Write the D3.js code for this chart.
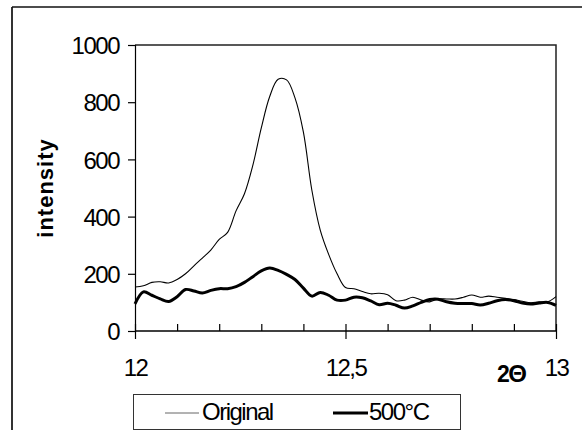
<!DOCTYPE html>
<html><head><meta charset="utf-8">
<script src="https://cdn.jsdelivr.net/npm/d3@7"></script>
<style>
html,body{margin:0;padding:0;background:#fff;}
svg{display:block;font-family:"Liberation Sans",Arial,sans-serif;}
</style></head>
<body><svg id="chart" width="582" height="430"></svg>
<script>
// ---- data ----
const theta = [12.00,12.02,12.04,12.06,12.08,12.10,12.12,12.14,12.16,12.18,12.20,12.22,12.24,12.26,12.28,12.30,12.32,12.34,12.36,12.38,12.40,12.42,12.44,12.46,12.48,12.50,12.52,12.54,12.56,12.58,12.60,12.62,12.64,12.66,12.68,12.70,12.72,12.74,12.76,12.78,12.80,12.82,12.84,12.86,12.88,12.90,12.92,12.94,12.96,12.98,13.00];
const original = [154,158,170,172,168,180,200,228,255,283,320,345,420,480,580,710,820,880,878,815,695,493,353,268,200,152,148,138,130,132,127,106,108,118,108,102,112,112,112,118,126,118,122,118,114,110,104,99,102,102,120];
const heated = [95,137,125,112,103,120,145,140,133,142,148,148,155,170,190,210,220,212,198,180,150,122,135,125,108,108,118,116,105,92,97,90,80,88,100,110,111,102,97,96,96,91,97,106,110,106,98,94,98,100,90];
const seriesNames = ["Original","500°C"];
const yTicks = [0,200,400,600,800,1000];
const xMajorTicks = [12,12.5,13];
const xMinorTicks = [12.1,12.2,12.3,12.4,12.6,12.7,12.8,12.9];
const xTickLabels = ["12","12,5","13"];

const svg = d3.select("#chart");
const L=135,R=556,T=45,B=331;
const x = d3.scaleLinear().domain([12,13]).range([L,R]);
const y = d3.scaleLinear().domain([0,1000]).range([B,T]);
const FONT = "Liberation Sans, Arial, sans-serif";

// outer frame (partially visible)
svg.append("line").attr("x1",12).attr("x2",12).attr("y1",7).attr("y2",430).attr("stroke","#333").attr("stroke-width",2);
svg.append("line").attr("x1",12).attr("x2",582).attr("y1",7).attr("y2",7).attr("stroke","#111").attr("stroke-width",1.5);

// plot area border (top and right)
svg.append("path").attr("d",`M${L},${T}H${R}V${B}`).attr("fill","none").attr("stroke","#222").attr("stroke-width",1.5);

// y axis
const yAxis = d3.axisLeft(y).tickValues(yTicks).tickSize(7).tickPadding(9).tickFormat(d3.format("d"));
const gy = svg.append("g").attr("transform",`translate(${L},0)`).call(yAxis);
gy.select(".domain").attr("stroke","#000").attr("stroke-width",1.2);
gy.selectAll(".tick line").attr("stroke","#000").attr("stroke-width",1.2);
gy.selectAll(".tick text").attr("font-size",24).attr("letter-spacing","-1.5px").attr("fill","#000").attr("font-family",FONT).attr("dy","0.36em");

// x axis
const gx = svg.append("g").attr("transform",`translate(0,${B})`);
gx.append("line").attr("x1",L).attr("x2",R).attr("stroke","#000").attr("stroke-width",1.5);
const xAxisMajor = d3.axisBottom(x).tickValues(xMajorTicks).tickSize(8).tickPadding(20).tickFormat((d,i)=>xTickLabels[i]);
const gxm = gx.append("g").call(xAxisMajor);
gxm.select(".domain").remove();
gxm.selectAll(".tick line").attr("y1",-7).attr("stroke","#000").attr("stroke-width",1.2);
gxm.selectAll(".tick text").attr("font-size",24).attr("letter-spacing","-1.5px").attr("fill","#000").attr("font-family",FONT);
const xAxisMinor = d3.axisTop(x).tickValues(xMinorTicks).tickSize(7).tickFormat("");
const gxn = gx.append("g").call(xAxisMinor);
gxn.select(".domain").remove();
gxn.selectAll(".tick line").attr("stroke","#000").attr("stroke-width",1.2);

// lines
const lineGen = d3.line().x((d,i)=>x(theta[i])).y(d=>y(d)).curve(d3.curveCatmullRom.alpha(0.5));
svg.append("path").datum(original).attr("d",lineGen).attr("fill","none").attr("stroke","#000").attr("stroke-width",1.1);
svg.append("path").datum(heated).attr("d",lineGen).attr("fill","none").attr("stroke","#000").attr("stroke-width",3);

// axis titles
svg.append("text").attr("transform","translate(53,188) rotate(-90)").attr("text-anchor","middle")
  .attr("font-size",22).attr("font-weight","bold").attr("letter-spacing","1px").text("intensity");
const tt = svg.append("text").attr("x",497).attr("y",382).attr("font-weight","bold").attr("font-family",FONT);
tt.append("tspan").attr("font-size",23).text("2");
tt.append("tspan").attr("font-size",24).attr("dx",-1.5).text("Θ");

// legend
const lg = svg.append("g");
lg.append("rect").attr("x",133.5).attr("y",394.5).attr("width",327).attr("height",35).attr("fill","#fff").attr("stroke","#333").attr("stroke-width",1);
const legendItems = [{x1:165,x2:199,tx:202,w:1,c:"#666"},{x1:333,x2:368,tx:369,w:3,c:"#000"}];
legendItems.forEach((it,i)=>{
  lg.append("line").attr("x1",it.x1).attr("x2",it.x2).attr("y1",413).attr("y2",413).attr("stroke",it.c).attr("stroke-width",it.w);
  lg.append("text").attr("x",it.tx).attr("y",420).attr("font-size",24).attr("letter-spacing","-1.5px").text(seriesNames[i]);
});
</script></body></html>
